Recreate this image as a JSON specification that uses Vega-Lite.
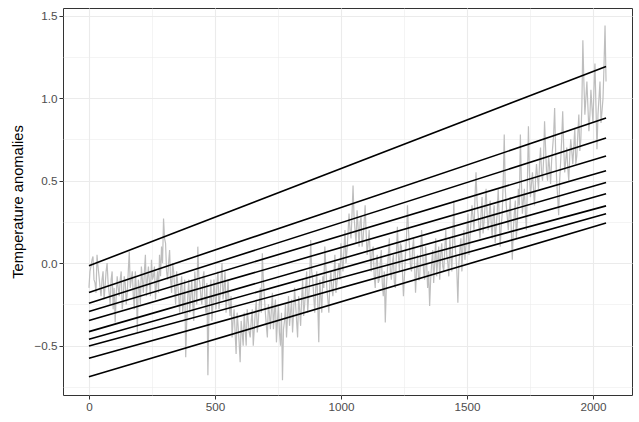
{
"$schema":"https://vega.github.io/schema/vega-lite/v6.json",
"width":569,"height":387,
"autosize":{"type":"none"},
"padding":{"left":63,"top":8,"right":7,"bottom":27},
"background":"white",
"config":{
"view":{"stroke":"#333333","strokeWidth":1},
"axis":{"domain":false,"labelFont":"Liberation Sans","labelFontSize":11.7,"labelColor":"#4d4d4d","tickColor":"#333333","tickSize":4,"tickWidth":1,"labelPadding":2,"titleFont":"Liberation Sans","titleFontSize":14.7,"titleFontWeight":"normal","titleColor":"black","gridColor":"#ebebeb"}
},
"datasets":{
"series":[
{"x":0,"y":-0.15},{"x":8,"y":-0.02},{"x":16,"y":0.04},{"x":24,"y":-0.12},{"x":32,"y":0.05},{"x":40,"y":-0.08},{"x":48,"y":-0.2},{"x":56,"y":-0.05},{"x":64,"y":-0.14},{"x":72,"y":0.0},
{"x":80,"y":-0.18},{"x":88,"y":-0.1},{"x":96,"y":-0.28},{"x":104,"y":-0.36},{"x":112,"y":-0.08},{"x":120,"y":-0.2},{"x":128,"y":-0.05},{"x":136,"y":-0.22},{"x":144,"y":-0.12},{"x":152,"y":-0.18},
{"x":160,"y":0.07},{"x":168,"y":-0.1},{"x":176,"y":-0.2},{"x":184,"y":-0.05},{"x":192,"y":-0.42},{"x":200,"y":-0.15},{"x":208,"y":-0.02},{"x":216,"y":-0.18},{"x":224,"y":0.05},{"x":232,"y":-0.1},
{"x":240,"y":-0.12},{"x":248,"y":0.02},{"x":256,"y":-0.08},{"x":264,"y":-0.22},{"x":272,"y":-0.05},{"x":280,"y":0.05},{"x":288,"y":0.1},{"x":296,"y":0.27},{"x":304,"y":0.12},{"x":312,"y":-0.1},
{"x":320,"y":0.08},{"x":328,"y":-0.18},{"x":336,"y":-0.05},{"x":344,"y":-0.25},{"x":352,"y":-0.12},{"x":360,"y":-0.3},{"x":368,"y":-0.08},{"x":376,"y":-0.22},{"x":384,"y":-0.57},{"x":392,"y":-0.2},
{"x":400,"y":-0.3},{"x":408,"y":-0.1},{"x":416,"y":-0.35},{"x":424,"y":-0.15},{"x":432,"y":0.1},{"x":440,"y":-0.12},{"x":448,"y":-0.25},{"x":456,"y":-0.05},{"x":464,"y":-0.3},{"x":472,"y":-0.68},
{"x":480,"y":-0.22},{"x":488,"y":-0.35},{"x":496,"y":-0.1},{"x":504,"y":-0.28},{"x":512,"y":-0.05},{"x":520,"y":-0.2},{"x":528,"y":0.0},{"x":536,"y":-0.15},{"x":544,"y":-0.3},{"x":552,"y":-0.1},
{"x":560,"y":-0.32},{"x":568,"y":-0.45},{"x":576,"y":-0.28},{"x":584,"y":-0.55},{"x":592,"y":-0.38},{"x":600,"y":-0.6},{"x":608,"y":-0.42},{"x":616,"y":-0.3},{"x":624,"y":-0.5},{"x":632,"y":-0.35},
{"x":640,"y":-0.45},{"x":648,"y":-0.28},{"x":656,"y":-0.4},{"x":664,"y":-0.22},{"x":672,"y":-0.35},{"x":680,"y":-0.15},{"x":688,"y":0.06},{"x":696,"y":-0.2},{"x":704,"y":-0.38},{"x":712,"y":-0.25},
{"x":720,"y":-0.4},{"x":728,"y":-0.18},{"x":736,"y":-0.3},{"x":744,"y":-0.48},{"x":752,"y":-0.25},{"x":760,"y":-0.5},{"x":768,"y":-0.71},{"x":776,"y":-0.35},{"x":784,"y":-0.45},{"x":792,"y":-0.2},
{"x":800,"y":-0.3},{"x":808,"y":-0.42},{"x":816,"y":-0.15},{"x":824,"y":-0.35},{"x":832,"y":-0.2},{"x":840,"y":-0.38},{"x":848,"y":-0.1},{"x":856,"y":-0.25},{"x":864,"y":-0.05},{"x":872,"y":-0.2},
{"x":880,"y":0.14},{"x":888,"y":-0.1},{"x":896,"y":-0.3},{"x":904,"y":-0.05},{"x":912,"y":-0.48},{"x":920,"y":-0.2},{"x":928,"y":-0.08},{"x":936,"y":0.1},{"x":944,"y":-0.15},{"x":952,"y":-0.3},
{"x":960,"y":-0.05},{"x":968,"y":-0.2},{"x":976,"y":0.05},{"x":984,"y":-0.12},{"x":992,"y":0.0},{"x":1000,"y":0.12},{"x":1008,"y":-0.05},{"x":1016,"y":0.2},{"x":1024,"y":0.08},{"x":1032,"y":0.3},
{"x":1040,"y":0.15},{"x":1048,"y":0.47},{"x":1056,"y":0.2},{"x":1064,"y":0.32},{"x":1072,"y":0.1},{"x":1080,"y":0.28},{"x":1088,"y":0.15},{"x":1096,"y":0.35},{"x":1104,"y":0.05},{"x":1112,"y":0.2},
{"x":1120,"y":-0.05},{"x":1128,"y":0.1},{"x":1136,"y":-0.15},{"x":1144,"y":0.05},{"x":1152,"y":-0.1},{"x":1160,"y":0.08},{"x":1168,"y":-0.2},{"x":1176,"y":-0.36},{"x":1184,"y":-0.05},{"x":1192,"y":0.15},
{"x":1200,"y":-0.1},{"x":1208,"y":0.05},{"x":1216,"y":-0.15},{"x":1224,"y":0.22},{"x":1232,"y":-0.05},{"x":1240,"y":0.1},{"x":1248,"y":-0.2},{"x":1256,"y":0.05},{"x":1264,"y":0.35},{"x":1272,"y":0.1},
{"x":1280,"y":-0.05},{"x":1288,"y":0.15},{"x":1296,"y":-0.18},{"x":1304,"y":0.05},{"x":1312,"y":-0.1},{"x":1320,"y":0.2},{"x":1328,"y":-0.05},{"x":1336,"y":0.1},{"x":1344,"y":-0.15},{"x":1352,"y":-0.26},
{"x":1360,"y":0.0},{"x":1368,"y":-0.12},{"x":1376,"y":0.15},{"x":1384,"y":0.02},{"x":1392,"y":-0.1},{"x":1400,"y":0.12},{"x":1408,"y":-0.05},{"x":1416,"y":0.2},{"x":1424,"y":0.0},{"x":1432,"y":0.15},
{"x":1440,"y":-0.05},{"x":1448,"y":0.38},{"x":1456,"y":0.05},{"x":1464,"y":-0.24},{"x":1472,"y":0.08},{"x":1480,"y":-0.05},{"x":1488,"y":0.2},{"x":1496,"y":0.1},{"x":1504,"y":0.3},{"x":1512,"y":0.15},
{"x":1520,"y":0.35},{"x":1528,"y":0.2},{"x":1536,"y":0.55},{"x":1544,"y":0.3},{"x":1552,"y":0.15},{"x":1560,"y":0.4},{"x":1568,"y":0.25},{"x":1576,"y":0.45},{"x":1584,"y":0.2},{"x":1592,"y":0.38},
{"x":1600,"y":0.15},{"x":1608,"y":0.35},{"x":1616,"y":0.22},{"x":1624,"y":0.45},{"x":1632,"y":0.1},{"x":1640,"y":0.3},{"x":1648,"y":0.78},{"x":1656,"y":0.35},{"x":1664,"y":0.2},{"x":1672,"y":0.4},
{"x":1680,"y":0.02},{"x":1688,"y":0.3},{"x":1696,"y":0.15},{"x":1704,"y":0.45},{"x":1712,"y":0.78},{"x":1720,"y":0.3},{"x":1728,"y":0.45},{"x":1736,"y":0.2},{"x":1744,"y":0.83},{"x":1752,"y":0.4},
{"x":1760,"y":0.55},{"x":1768,"y":0.35},{"x":1776,"y":0.6},{"x":1784,"y":0.45},{"x":1792,"y":0.7},{"x":1800,"y":0.5},{"x":1808,"y":0.86},{"x":1816,"y":0.55},{"x":1824,"y":0.65},{"x":1832,"y":0.48},
{"x":1840,"y":0.7},{"x":1848,"y":0.94},{"x":1856,"y":0.5},{"x":1864,"y":0.29},{"x":1872,"y":0.62},{"x":1880,"y":0.92},{"x":1888,"y":0.55},{"x":1896,"y":0.7},{"x":1904,"y":0.5},{"x":1912,"y":0.75},
{"x":1920,"y":0.6},{"x":1928,"y":0.82},{"x":1936,"y":0.65},{"x":1944,"y":0.9},{"x":1952,"y":0.75},{"x":1960,"y":1.35},{"x":1968,"y":0.9},{"x":1976,"y":1.1},{"x":1984,"y":0.8},{"x":1992,"y":1.05},
{"x":2000,"y":0.85},{"x":2008,"y":1.21},{"x":2016,"y":0.69},{"x":2024,"y":1.0},{"x":2032,"y":0.85},{"x":2040,"y":1.0},{"x":2048,"y":1.44},{"x":2052,"y":1.1},
{"x":4,"y":-0.05},{"x":12,"y":0.02},{"x":20,"y":-0.1},{"x":28,"y":-0.18},{"x":36,"y":-0.02},{"x":44,"y":-0.15},{"x":52,"y":-0.1},{"x":60,"y":-0.22},{"x":68,"y":-0.05},{"x":76,"y":-0.12},
{"x":84,"y":-0.25},{"x":92,"y":-0.05},{"x":100,"y":-0.15},{"x":108,"y":-0.2},{"x":116,"y":-0.15},{"x":124,"y":-0.1},{"x":132,"y":-0.28},{"x":140,"y":-0.08},{"x":148,"y":-0.25},{"x":156,"y":-0.05},
{"x":164,"y":-0.15},{"x":172,"y":-0.05},{"x":180,"y":-0.28},{"x":188,"y":-0.15},{"x":196,"y":-0.1},{"x":204,"y":-0.25},{"x":212,"y":-0.1},{"x":220,"y":-0.05},{"x":228,"y":-0.2},{"x":236,"y":-0.02},
{"x":244,"y":-0.2},{"x":252,"y":-0.1},{"x":260,"y":-0.02},{"x":268,"y":-0.12},{"x":276,"y":-0.18},{"x":284,"y":-0.08},{"x":292,"y":0.0},{"x":300,"y":0.15},{"x":308,"y":-0.05},{"x":316,"y":0.0},
{"x":324,"y":-0.1},{"x":332,"y":0.0},{"x":340,"y":-0.15},{"x":348,"y":-0.05},{"x":356,"y":-0.2},{"x":364,"y":-0.15},{"x":372,"y":-0.3},{"x":380,"y":-0.1},{"x":388,"y":-0.35},{"x":396,"y":-0.1},
{"x":404,"y":-0.2},{"x":412,"y":-0.25},{"x":420,"y":-0.05},{"x":428,"y":-0.25},{"x":436,"y":-0.08},{"x":444,"y":-0.2},{"x":452,"y":-0.1},{"x":460,"y":-0.2},{"x":468,"y":-0.12},{"x":476,"y":-0.3},
{"x":484,"y":-0.1},{"x":492,"y":-0.25},{"x":500,"y":-0.2},{"x":508,"y":-0.12},{"x":516,"y":-0.28},{"x":524,"y":-0.1},{"x":532,"y":-0.22},{"x":540,"y":-0.05},{"x":548,"y":-0.2},{"x":556,"y":-0.25},
{"x":564,"y":-0.2},{"x":572,"y":-0.35},{"x":580,"y":-0.42},{"x":588,"y":-0.3},{"x":596,"y":-0.48},{"x":604,"y":-0.35},{"x":612,"y":-0.5},{"x":620,"y":-0.4},{"x":628,"y":-0.28},{"x":636,"y":-0.42},
{"x":644,"y":-0.35},{"x":652,"y":-0.5},{"x":660,"y":-0.3},{"x":668,"y":-0.42},{"x":676,"y":-0.25},{"x":684,"y":-0.3},{"x":692,"y":-0.1},{"x":700,"y":-0.3},{"x":708,"y":-0.45},{"x":716,"y":-0.3},
{"x":724,"y":-0.28},{"x":732,"y":-0.4},{"x":740,"y":-0.22},{"x":748,"y":-0.35},{"x":756,"y":-0.42},{"x":764,"y":-0.3},{"x":772,"y":-0.4},{"x":780,"y":-0.25},{"x":788,"y":-0.32},{"x":796,"y":-0.38},
{"x":804,"y":-0.22},{"x":812,"y":-0.3},{"x":820,"y":-0.25},{"x":828,"y":-0.45},{"x":836,"y":-0.28},{"x":844,"y":-0.22},{"x":852,"y":-0.32},{"x":860,"y":-0.15},{"x":868,"y":-0.3},{"x":876,"y":-0.1},
{"x":884,"y":-0.05},{"x":892,"y":-0.2},{"x":900,"y":-0.15},{"x":908,"y":-0.25},{"x":916,"y":-0.1},{"x":924,"y":-0.3},{"x":932,"y":-0.15},{"x":940,"y":-0.02},{"x":948,"y":-0.22},{"x":956,"y":-0.12},
{"x":964,"y":-0.15},{"x":972,"y":-0.08},{"x":980,"y":-0.18},{"x":988,"y":-0.05},{"x":996,"y":-0.1},{"x":1004,"y":0.02},{"x":1012,"y":0.08},{"x":1020,"y":0.0},{"x":1028,"y":0.18},{"x":1036,"y":0.2},
{"x":1044,"y":0.3},{"x":1052,"y":0.28},{"x":1060,"y":0.12},{"x":1068,"y":0.22},{"x":1076,"y":0.25},{"x":1084,"y":0.1},{"x":1092,"y":0.25},{"x":1100,"y":0.18},{"x":1108,"y":0.12},{"x":1116,"y":0.05},
{"x":1124,"y":0.08},{"x":1132,"y":-0.08},{"x":1140,"y":0.0},{"x":1148,"y":-0.12},{"x":1156,"y":0.0},{"x":1164,"y":-0.12},{"x":1172,"y":-0.05},{"x":1180,"y":-0.15},{"x":1188,"y":0.05},{"x":1196,"y":-0.05},
{"x":1204,"y":0.0},{"x":1212,"y":-0.12},{"x":1220,"y":0.05},{"x":1228,"y":0.05},{"x":1236,"y":0.12},{"x":1244,"y":-0.05},{"x":1252,"y":-0.08},{"x":1260,"y":0.15},{"x":1268,"y":0.2},{"x":1276,"y":-0.02},
{"x":1284,"y":0.08},{"x":1292,"y":0.0},{"x":1300,"y":-0.05},{"x":1308,"y":-0.1},{"x":1316,"y":0.05},{"x":1324,"y":0.08},{"x":1332,"y":-0.1},{"x":1340,"y":0.0},{"x":1348,"y":-0.05},{"x":1356,"y":-0.1},
{"x":1364,"y":0.08},{"x":1372,"y":0.0},{"x":1380,"y":-0.08},{"x":1388,"y":0.1},{"x":1396,"y":0.05},{"x":1404,"y":-0.02},{"x":1412,"y":0.08},{"x":1420,"y":0.05},{"x":1428,"y":-0.08},{"x":1436,"y":0.05},
{"x":1444,"y":0.15},{"x":1452,"y":0.12},{"x":1460,"y":-0.05},{"x":1468,"y":0.0},{"x":1476,"y":0.15},{"x":1484,"y":0.1},{"x":1492,"y":0.02},{"x":1500,"y":0.2},{"x":1508,"y":0.05},{"x":1516,"y":0.25},
{"x":1524,"y":0.28},{"x":1532,"y":0.4},{"x":1540,"y":0.38},{"x":1548,"y":0.22},{"x":1556,"y":0.3},{"x":1564,"y":0.18},{"x":1572,"y":0.35},{"x":1580,"y":0.3},{"x":1588,"y":0.28},{"x":1596,"y":0.25},
{"x":1604,"y":0.28},{"x":1612,"y":0.12},{"x":1620,"y":0.3},{"x":1628,"y":0.28},{"x":1636,"y":0.22},{"x":1644,"y":0.5},{"x":1652,"y":0.45},{"x":1660,"y":0.28},{"x":1668,"y":0.3},{"x":1676,"y":0.2},
{"x":1684,"y":0.2},{"x":1692,"y":0.38},{"x":1700,"y":0.25},{"x":1708,"y":0.35},{"x":1716,"y":0.5},{"x":1724,"y":0.38},{"x":1732,"y":0.3},{"x":1740,"y":0.5},{"x":1748,"y":0.55},{"x":1756,"y":0.48},
{"x":1764,"y":0.45},{"x":1772,"y":0.5},{"x":1780,"y":0.52},{"x":1788,"y":0.6},{"x":1796,"y":0.55},{"x":1804,"y":0.62},{"x":1812,"y":0.7},{"x":1820,"y":0.5},{"x":1828,"y":0.58},{"x":1836,"y":0.62},
{"x":1844,"y":0.78},{"x":1852,"y":0.68},{"x":1860,"y":0.4},{"x":1868,"y":0.5},{"x":1876,"y":0.75},{"x":1884,"y":0.7},{"x":1892,"y":0.62},{"x":1900,"y":0.58},{"x":1908,"y":0.65},{"x":1916,"y":0.68},
{"x":1924,"y":0.7},{"x":1932,"y":0.6},{"x":1940,"y":0.78},{"x":1948,"y":0.68},{"x":1956,"y":0.95},{"x":1964,"y":1.1},{"x":1972,"y":1.0},{"x":1980,"y":0.95},{"x":1988,"y":0.9},{"x":1996,"y":0.95},
{"x":2004,"y":1.05},{"x":2012,"y":0.95},{"x":2020,"y":0.9},{"x":2028,"y":1.1},{"x":2036,"y":0.92},{"x":2044,"y":1.2}
],
"fits":[
{"q":1,"x":0,"y":-0.016},{"q":1,"x":2052,"y":1.192},
{"q":2,"x":0,"y":-0.178},{"q":2,"x":2052,"y":0.879},
{"q":3,"x":0,"y":-0.243},{"q":3,"x":2052,"y":0.758},
{"q":4,"x":0,"y":-0.293},{"q":4,"x":2052,"y":0.649},
{"q":5,"x":0,"y":-0.348},{"q":5,"x":2052,"y":0.56},
{"q":6,"x":0,"y":-0.415},{"q":6,"x":2052,"y":0.489},
{"q":7,"x":0,"y":-0.461},{"q":7,"x":2052,"y":0.42},
{"q":8,"x":0,"y":-0.502},{"q":8,"x":2052,"y":0.347},
{"q":9,"x":0,"y":-0.576},{"q":9,"x":2052,"y":0.299},
{"q":10,"x":0,"y":-0.688},{"q":10,"x":2052,"y":0.243}
]
},
"layer":[
{"data":{"name":"series"},
"mark":{"type":"line","color":"#bebebe","strokeWidth":1.2},
"encoding":{
"x":{"field":"x","type":"quantitative","scale":{"domain":[-103,2155],"nice":false,"zero":false},
"axis":{"title":null,"format":"d","values":[0,250,500,750,1000,1250,1500,1750,2000],"labelExpr":"datum.value % 500 === 0 ? datum.label : ''","gridWidth":{"condition":{"test":"datum.value % 500 === 0","value":1.1},"value":0.55},"tickOpacity":{"condition":{"test":"datum.value % 500 === 0","value":1},"value":0},"labelOverlap":false,"labelFlush":false}},
"y":{"field":"y","type":"quantitative","scale":{"domain":[-0.799,1.546],"nice":false,"zero":false},
"axis":{"title":"Temperature anomalies","format":".1f","values":[-0.75,-0.5,-0.25,0,0.25,0.5,0.75,1,1.25,1.5],"labelExpr":"datum.value % 0.5 === 0 ? datum.label : ''","gridWidth":{"condition":{"test":"datum.value % 0.5 === 0","value":1.1},"value":0.55},"tickOpacity":{"condition":{"test":"datum.value % 0.5 === 0","value":1},"value":0},"labelOverlap":false,"labelFlush":false,"titleX":-45,"titleY":193.5,"titleBaseline":"middle"}}
}},
{"data":{"name":"fits"},
"mark":{"type":"line","color":"black","strokeWidth":1.6},
"encoding":{
"x":{"field":"x","type":"quantitative"},
"y":{"field":"y","type":"quantitative"},
"detail":{"field":"q","type":"nominal"}
}}
]
}
